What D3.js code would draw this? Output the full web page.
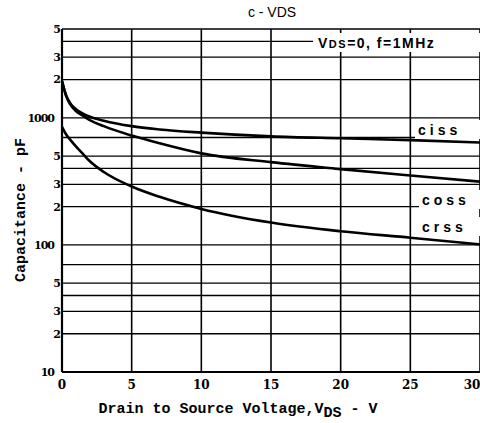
<!DOCTYPE html>
<html>
<head>
<meta charset="utf-8">
<script src="https://cdn.jsdelivr.net/npm/d3@7"></script>
<style>
  body { margin: 0; background: #fff; }
  svg { display: block; }
</style>
</head>
<body>
<div id="chart"></div>
<script>
// drain-source voltage samples (V)
var vds = [0, 0.3, 0.6, 1, 1.5, 2, 3, 5, 7, 10, 15, 20, 25, 30];
// capacitances in pF
var ciss = [1950, 1500, 1300, 1170, 1080, 1020, 950, 860, 810, 765, 715, 690, 668, 640];
var coss = [1950, 1480, 1270, 1130, 1040, 960, 860, 725, 630, 525, 448, 395, 352, 315];
var crss = [850, 740, 670, 595, 520, 455, 375, 288, 239, 192, 150, 128, 114, 101];

var xTicks = [0, 5, 10, 15, 20, 25, 30];
var yGrid = [10, 20, 30, 40, 50, 70, 100, 200, 300, 400, 500, 700, 1000, 2000, 3000, 4000, 5000];
var yLabels = [
    { v: 10, t: "10" }, { v: 20, t: "2" }, { v: 30, t: "3" }, { v: 50, t: "5" },
    { v: 100, t: "100" }, { v: 200, t: "2" }, { v: 300, t: "3" }, { v: 500, t: "5" },
    { v: 1000, t: "1000" }, { v: 2000, t: "2" }, { v: 3000, t: "3" }, { v: 5000, t: "5" }
];

var W = 480, H = 423;
var pLeft = 62, pRight = 480, pTop = 29, pBottom = 372;

var svg = d3.select("#chart").append("svg")
    .attr("width", W)
    .attr("height", H);

var x = d3.scaleLinear().domain([0, 30]).range([pLeft, pRight]);
var y = d3.scaleLog().domain([10, 5000]).range([pBottom, pTop]);

var g = svg.append("g");

// grid
g.selectAll("line.h")
    .data(yGrid).enter()
    .append("line")
    .attr("class", "h")
    .attr("x1", pLeft).attr("x2", pRight)
    .attr("y1", function (d) { return y(d); })
    .attr("y2", function (d) { return y(d); })
    .attr("stroke", "#000")
    .attr("stroke-width", 1.3);

g.selectAll("line.v")
    .data(xTicks).enter()
    .append("line")
    .attr("class", "v")
    .attr("x1", function (d) { return x(d); })
    .attr("x2", function (d) { return x(d); })
    .attr("y1", pTop).attr("y2", pBottom)
    .attr("stroke", "#000")
    .attr("stroke-width", 1.6);

// frame
g.append("line").attr("x1", pLeft).attr("x2", pLeft).attr("y1", pTop).attr("y2", pBottom)
    .attr("stroke", "#000").attr("stroke-width", 2.2);
g.append("line").attr("x1", pLeft).attr("x2", pRight).attr("y1", pBottom).attr("y2", pBottom)
    .attr("stroke", "#000").attr("stroke-width", 2.2);

// curves
var line = d3.line()
    .x(function (d) { return x(d[0]); })
    .y(function (d) { return y(d[1]); })
    .curve(d3.curveMonotoneX);

[ciss, coss, crss].forEach(function (s) {
    g.append("path")
        .datum(vds.map(function (v, i) { return [v, s[i]]; }))
        .attr("d", line)
        .attr("fill", "none")
        .attr("stroke", "#000")
        .attr("stroke-width", 2.6);
});

// tick labels
var tickFont = "'DejaVu Serif', serif";
svg.selectAll("text.xt")
    .data(xTicks).enter()
    .append("text")
    .attr("class", "xt")
    .attr("x", function (d) { return x(d) + (d == 30 ? -8 : 0); })
    .attr("y", 389)
    .attr("text-anchor", "middle")
    .style("font-family", tickFont)
    .style("font-weight", "bold")
    .style("font-size", "12px")
    .text(function (d) { return d; });

svg.selectAll("text.yt")
    .data(yLabels).enter()
    .append("text")
    .attr("class", "yt")
    .attr("x", function (d) { return d.t.length > 1 ? 54 : 60; })
    .attr("y", function (d) { return y(d.v); })
    .attr("dy", "0.35em")
    .attr("text-anchor", "end")
    .attr("letter-spacing", "-1px")
    .style("font-family", tickFont)
    .style("font-weight", "bold")
    .style("font-size", "11px")
    .text(function (d) { return d.t; });

// title
svg.append("text")
    .attr("x", 272).attr("y", 17)
    .attr("text-anchor", "middle")
    .style("font-family", "'Liberation Sans', sans-serif")
    .style("font-size", "14px")
    .text("c - VDS");

// condition box
svg.append("rect")
    .attr("x", 313).attr("y", 33).attr("width", 167).attr("height", 19)
    .attr("fill", "#fff");
var cond = svg.append("text")
    .attr("x", 318).attr("y", 48)
    .attr("letter-spacing", "1.5px")
    .style("font-family", "'Liberation Sans', sans-serif")
    .style("font-weight", "bold")
    .style("font-size", "14px");
cond.append("tspan").text("V");
cond.append("tspan").style("font-size", "11px").text("DS");
cond.append("tspan").text("=0, f=1MHz");

// curve labels
var curveLabels = [
    { t: "ciss", y: 130, x: 418 },
    { t: "coss", y: 200, x: 422 },
    { t: "crss", y: 227, x: 422 }
];
svg.selectAll("rect.lb")
    .data(curveLabels).enter()
    .append("rect")
    .attr("class", "lb")
    .attr("x", function (d) { return d.x - 3; })
    .attr("y", function (d) { return d.y - 10; })
    .attr("width", function (d) { return 480 - d.x + 3; })
    .attr("height", 19)
    .attr("fill", "#fff");
svg.selectAll("text.lb")
    .data(curveLabels).enter()
    .append("text")
    .attr("class", "lb")
    .attr("x", function (d) { return d.x; })
    .attr("y", function (d) { return d.y; })
    .attr("dy", "0.35em")
    .attr("letter-spacing", "4px")
    .style("font-family", "'Liberation Sans', sans-serif")
    .style("font-weight", "bold")
    .style("font-size", "14px")
    .text(function (d) { return d.t; });

// axis titles
var titleFont = "'Liberation Mono', monospace";
var xt = svg.append("text")
    .attr("x", 238).attr("y", 413)
    .attr("text-anchor", "middle")
    .style("font-family", titleFont)
    .style("font-weight", "bold")
    .style("font-size", "15px");
xt.append("tspan").text("Drain to Source Voltage,V");
xt.append("tspan").attr("dy", 4).text("DS");
xt.append("tspan").attr("dy", -4).text(" - V");

svg.append("text")
    .attr("transform", "translate(25,210) rotate(-90)")
    .attr("text-anchor", "middle")
    .style("font-family", titleFont)
    .style("font-weight", "bold")
    .style("font-size", "15px")
    .text("Capacitance - pF");
</script>
</body>
</html>
